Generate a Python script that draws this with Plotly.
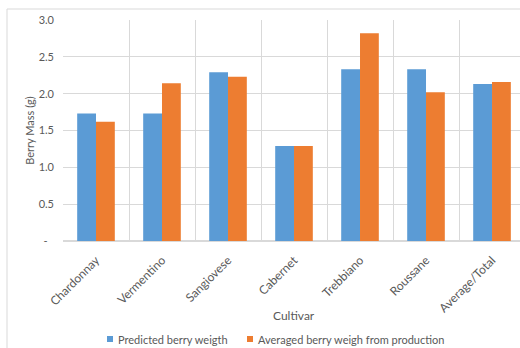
import plotly.graph_objects as go

cultivars = ["Chardonnay", "Vermentino", "Sangiovese", "Cabernet",
             "Trebbiano", "Roussane", "Average/Total"]
predicted = [1.73, 1.73, 2.29, 1.29, 2.33, 2.33, 2.13]
averaged = [1.62, 2.14, 2.23, 1.29, 2.82, 2.02, 2.16]
series_names = ["Predicted berry weigth", "Averaged berry weigh from production"]
series_colors = ["#5B9BD5", "#ED7D31"]

y_tickvals = [0, 0.5, 1.0, 1.5, 2.0, 2.5, 3.0]
y_ticktext = ["-\u2007", "0.5", "1.0", "1.5", "2.0", "2.5", "3.0"]

FONT = "Lato, Open Sans, sans-serif"
GREY_TXT = "#595959"
GRID = "#D9D9D9"

fig = go.Figure()
for vals, name, col in zip([predicted, averaged], series_names, series_colors):
    fig.add_trace(go.Bar(x=cultivars, y=vals, name=name, showlegend=False,
                         marker=dict(color=col, line=dict(width=0))))

W, H = 520, 348
L, R, T, B = 63, 0, 20, 107
plot_w = W - L - R
plot_h = H - T - B


def px_x(px):
    return (px - L) / plot_w


def px_y(py):
    return (H - B - py) / plot_h


fig.update_layout(
    width=W, height=H,
    margin=dict(l=L, r=R, t=T, b=B),
    paper_bgcolor="white", plot_bgcolor="white",
    barmode="group", bargap=0.43, bargroupgap=0,
    font=dict(family=FONT, size=11, color=GREY_TXT),
    showlegend=False,
    xaxis=dict(
        type="category", range=[-0.5, 6.424],
        tickson="boundaries", showgrid=True, gridcolor=GRID, gridwidth=1,
        ticks="", tickangle=-45, ticklabelstandoff=9,
        tickfont=dict(size=12, color=GREY_TXT),
        showline=False, zeroline=False,
    ),
    yaxis=dict(
        range=[0, 3.0], tickvals=y_tickvals, ticktext=y_ticktext,
        showgrid=True, gridcolor=GRID, gridwidth=1,
        zeroline=True, zerolinecolor=GRID, zerolinewidth=1.5,
        showline=False, ticks="", ticklabelstandoff=8,
        tickfont=dict(size=11, color=GREY_TXT),
        title=dict(text="Berry Mass (g)", standoff=1, font=dict(size=11, color=GREY_TXT)),
    ),
)

# x-axis title
fig.add_annotation(xref="paper", yref="paper", x=px_x(294), y=px_y(315),
                   xanchor="center", yanchor="middle", showarrow=False,
                   text="Cultivar", font=dict(size=12, color=GREY_TXT, family=FONT))

# light chart-area frame
fig.add_shape(type="rect", xref="paper", yref="paper",
              x0=px_x(7), x1=1.2, y0=-1.0, y1=px_y(9),
              line=dict(color=GRID, width=1), fillcolor="rgba(0,0,0,0)", layer="above")

# legend: small colour squares followed by the series names
legend_x = [107, 247]
for lx, name, col in zip(legend_x, series_names, series_colors):
    fig.add_shape(type="rect", xref="paper", yref="paper",
                  x0=px_x(lx), x1=px_x(lx + 6), y0=px_y(342), y1=px_y(336),
                  line=dict(width=0), fillcolor=col)
    fig.add_annotation(xref="paper", yref="paper", x=px_x(lx + 9), y=px_y(339),
                       xanchor="left", yanchor="middle", showarrow=False,
                       text=name, font=dict(size=11, color=GREY_TXT, family=FONT))

fig.write_html("out.html")
